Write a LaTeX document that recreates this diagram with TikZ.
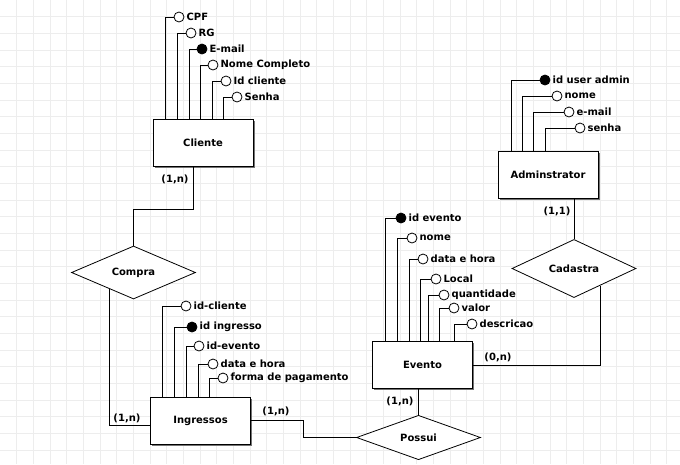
\documentclass[tikz,border=0pt]{standalone}
\usepackage{fontspec}
\setmainfont{DejaVu Sans}
\usepackage{tikz}
\usetikzlibrary{shapes.geometric}
\usetikzlibrary{shadows}
\tikzset{entity/.style={rectangle, draw=black, line width=1pt, fill=white, minimum width=100pt, minimum height=47pt, drop shadow={shadow xshift=1.6pt, shadow yshift=-1.6pt, fill=black!55, opacity=1}},
  relation/.style={diamond, draw=black, line width=0.8pt, fill=white, minimum width=124pt, minimum height=41pt, inner sep=0pt},
  attr/.style={circle, draw=black, line width=0.8pt, fill=white, minimum size=10pt, inner sep=0pt, label distance=0pt},
  keyattr/.style={attr, fill=black},
  gridline/.style={draw=black!7, line width=0.6pt},
  conn/.style={draw=black, line width=0.8pt},
  every label/.style={inner sep=2pt},
  card/.style={inner sep=0pt}}

\begin{document}
\begin{tikzpicture}[x=1pt, y=-1pt, font=\fontsize{10}{12}\selectfont\bfseries]
      \useasboundingbox (0,0) rectangle (680,464);
      \fill[white] (0,0) rectangle (680,464);
      % fundo quadriculado
      \foreach \i in {1,...,40} \draw[gridline] (\i*16.667,0) -- (\i*16.667,464);
      \foreach \j in {1,...,27} \draw[gridline] (0,\j*16.667) -- (680,\j*16.667);

      % entidades
      \node[entity] (cli) at (203,143) {Cliente};
      \node[entity] (adm) at (548,174.5) {Adminstrator};
      \node[entity] (ev) at (422.5,365) {Evento};
      \node[entity] (ing) at (200.5,420.5) {Ingressos};

      % relacionamentos
      \node[relation] (compra) at (133.5,272.5) {Compra};
      \node[relation] (cad) at (574,268.5) {Cadastra};
      \node[relation] (pos) at (418.5,437.5) {Possui};

      % atributos do cliente
      \node[attr, label=right:CPF] (cpf) at (179,17) {};
      \node[attr, label=right:RG] (rg) at (191,33) {};
      \node[keyattr, label=right:E-mail] (email) at (202,49) {};
      \node[attr, label=right:Nome Completo] (nomecli) at (213,65) {};
      \node[attr, label=right:Id cliente] (idcli) at (226,81) {};
      \node[attr, label=right:Senha] (senhacli) at (237,97) {};
      \draw[conn] (cpf.west) -| (cli.north -| 165,0);
      \draw[conn] (rg.west) -| (cli.north -| 177,0);
      \draw[conn] (email.west) -| (cli.north -| 189,0);
      \draw[conn] (nomecli.west) -| (cli.north -| 200,0);
      \draw[conn] (idcli.west) -| (cli.north -| 212,0);
      \draw[conn] (senhacli.west) -| (cli.north -| 223,0);

      % atributos do administrador
      \node[keyattr, label=right:id user admin] (idadm) at (545,80) {};
      \node[attr, label=right:nome] (nomeadm) at (557,96) {};
      \node[attr, label=right:e-mail] (emailadm) at (569,112) {};
      \node[attr, label=right:senha] (senhaadm) at (580,128) {};
      \draw[conn] (idadm.west) -| (adm.north -| 511,0);
      \draw[conn] (nomeadm.west) -| (adm.north -| 522,0);
      \draw[conn] (emailadm.west) -| (adm.north -| 533,0);
      \draw[conn] (senhaadm.west) -| (adm.north -| 545,0);

      % atributos do evento
      \node[keyattr, label=right:id evento] (idev) at (401,218) {};
      \node[attr, label=right:nome] (nomeev) at (412,238) {};
      \node[attr, label=right:data e hora] (dataev) at (423,259) {};
      \node[attr, label=right:Local] (local) at (436,279) {};
      \node[attr, label=right:quantidade] (qtd) at (444,295) {};
      \node[attr, label=right:valor] (valor) at (454,308) {};
      \node[attr, label=right:descricao] (desc) at (472,324) {};
      \draw[conn] (idev.west) -| (ev.north -| 385,0);
      \draw[conn] (nomeev.west) -| (ev.north -| 397,0);
      \draw[conn] (dataev.west) -| (ev.north -| 409,0);
      \draw[conn] (local.west) -| (ev.north -| 420,0);
      \draw[conn] (qtd.west) -| (ev.north -| 428,0);
      \draw[conn] (valor.west) -| (ev.north -| 439,0);
      \draw[conn] (desc.west) -| (ev.north -| 454,0);

      % atributos do ingresso
      \node[attr, label=right:id-cliente] (idcliing) at (186,306) {};
      \node[keyattr, label=right:id ingresso] (iding) at (192,327) {};
      \node[attr, label=right:id-evento] (idevi) at (199,346) {};
      \node[attr, label=right:data e hora] (dataing) at (213,364) {};
      \node[attr, label=right:forma de pagamento] (forma) at (223,378) {};
      \draw[conn] (idcliing.west) -| (ing.north -| 162,0);
      \draw[conn] (iding.west) -| (ing.north -| 174,0);
      \draw[conn] (idevi.west) -| (ing.north -| 186,0);
      \draw[conn] (dataing.west) -| (ing.north -| 198,0);
      \draw[conn] (forma.west) -| (ing.north -| 209,0);

      % ligacoes
      \coordinate (k1) at (193,209);
      \draw[conn] (cli.south -| k1) -- (k1) -| (compra.north);
      \draw[conn] (compra.215) |- (ing.185);
      \coordinate (k2) at (303,437.5);
      \draw[conn] (ing.east) -| (k2) -- (pos.west);
      \draw[conn] (pos.north) -- (pos.north |- ev.south);
      \draw[conn] (cad.north) -- (cad.north |- adm.south);
      \draw[conn] (cad.-33) |- (ev.east);

      % cardinalidades
      \node[card] (c1) at (175,179) {(1,n)};
      \node[card] (c2) at (127,418) {(1,n)};
      \node[card] (c3) at (276,411) {(1,n)};
      \node[card] (c4) at (400,401) {(1,n)};
      \node[card] (c5) at (557,211) {(1,1)};
      \node[card] (c6) at (498,357) {(0,n)};
  \end{tikzpicture}
\end{document}
